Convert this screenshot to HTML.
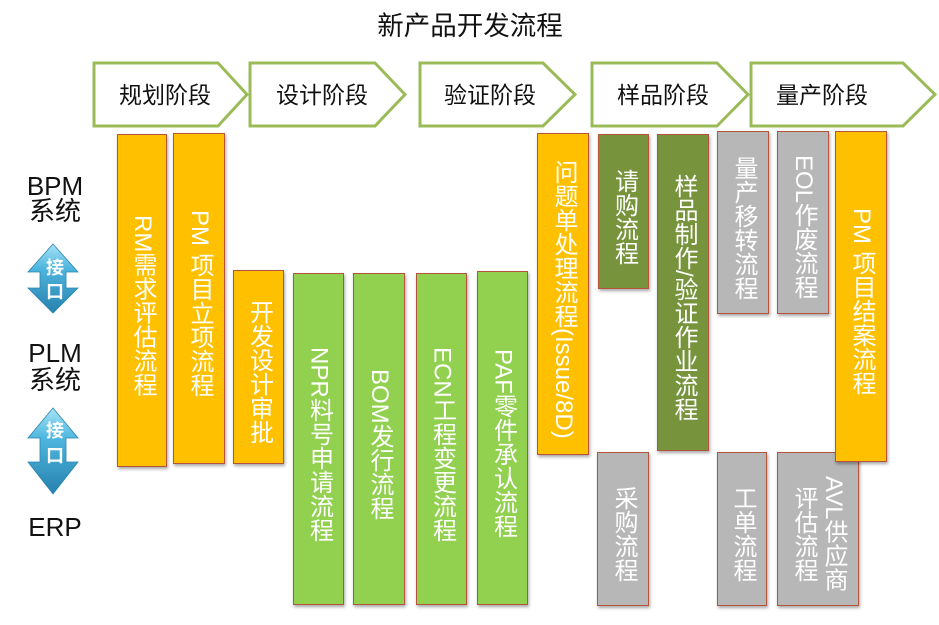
<!DOCTYPE html>
<html><head><meta charset="utf-8">
<style>
html,body{margin:0;padding:0;}
body{width:939px;height:625px;position:relative;overflow:hidden;background:#fff;}
svg{position:absolute;left:0;top:0;}
.b{position:absolute;box-sizing:border-box;border:1px solid #B5533C;box-shadow:1px 2px 3px rgba(0,0,0,.35);display:flex;align-items:center;justify-content:center;padding-top:10px;}
.b span{writing-mode:vertical-rl;color:#fff;font-size:24px;line-height:26px;font-family:"Liberation Sans","Noto Sans CJK SC",sans-serif;text-align:center;white-space:nowrap;}
.o{background:#FFC000;}
.lg{background:#92D050;}
.dg{background:#77933C;}
.g{background:#B7B7B7;}
</style></head>
<body>
<svg width="939" height="625" viewBox="0 0 939 625">
  <defs>
    <linearGradient id="ag" x1="0" y1="0" x2="0" y2="1">
      <stop offset="0" stop-color="#A6E4F7"/>
      <stop offset="0.35" stop-color="#4FB6DE"/>
      <stop offset="1" stop-color="#2682AE"/>
    </linearGradient>
  </defs>
  <text x="470" y="35" text-anchor="middle" font-family="'Liberation Sans','Noto Sans CJK SC',sans-serif" font-size="26.5" fill="#111">新产品开发流程</text>

  <g fill="#fff" stroke="#9BBB59" stroke-width="3" stroke-linejoin="miter">
    <polygon points="94,63 218,63 247,94.5 218,126 94,126"/>
    <polygon points="250,63 375,63 405,94.5 375,126 250,126"/>
    <polygon points="420,63 543,63 575,94.5 543,126 420,126"/>
    <polygon points="592,63 717,63 748,94.5 717,126 592,126"/>
    <polygon points="751,63 903,63 935,94.5 903,126 751,126"/>
  </g>
  <g font-family="'Liberation Sans','Noto Sans CJK SC',sans-serif" font-size="23" fill="#111">
    <text x="119" y="103">规划阶段</text>
    <text x="276" y="103">设计阶段</text>
    <text x="444" y="103">验证阶段</text>
    <text x="617" y="103">样品阶段</text>
    <text x="776" y="103">量产阶段</text>
  </g>

  <g font-family="'Liberation Sans','Noto Sans CJK SC',sans-serif" font-size="26" fill="#111" text-anchor="middle">
    <text x="55" y="195">BPM</text>
    <text x="55" y="220">系统</text>
    <text x="55" y="362">PLM</text>
    <text x="55" y="389">系统</text>
    <text x="55" y="536">ERP</text>
  </g>

  <polygon points="53,244 78,272 66,272 66,288 78,288 53,313 28,288 40,288 40,272 28,272" fill="url(#ag)" stroke="#2A86B2" stroke-width="0.8"/>
  <polygon points="53,408 78,438 66,438 66,462 78,462 53,494 28,462 40,462 40,438 28,438" fill="url(#ag)" stroke="#2A86B2" stroke-width="0.8"/>
  <g font-family="'Liberation Sans','Noto Sans CJK SC',sans-serif" font-size="18" fill="#fff" text-anchor="middle" font-weight="bold">
    <text x="55" y="274">接</text>
    <text x="55" y="298">口</text>
    <text x="55" y="437">接</text>
    <text x="55" y="462">口</text>
  </g>
</svg>

<div class="b o" style="left:117px;top:134px;width:50px;height:333px;"><span>RM需求评估流程</span></div>
<div class="b o" style="left:173px;top:133px;width:52px;height:331px;"><span>PM 项目立项流程</span></div>
<div class="b o" style="left:233px;top:270px;width:51px;height:194px;"><span>开发设计审批</span></div>
<div class="b lg" style="left:293px;top:273px;width:51px;height:332px;"><span>NPR料号申请流程</span></div>
<div class="b lg" style="left:353px;top:273px;width:52px;height:332px;"><span>BOM发行流程</span></div>
<div class="b lg" style="left:416px;top:273px;width:51px;height:332px;"><span>ECN工程变更流程</span></div>
<div class="b lg" style="left:477px;top:271px;width:51px;height:334px;"><span>PAF零件承认流程</span></div>
<div class="b o" style="left:537px;top:133px;width:52px;height:322px;"><span>问题单处理流程(Issue/8D)</span></div>
<div class="b dg" style="left:598px;top:134px;width:51px;height:155px;"><span>请购流程</span></div>
<div class="b dg" style="left:657px;top:134px;width:52px;height:317px;"><span>样品制作/验证作业流程</span></div>
<div class="b g" style="left:597px;top:452px;width:52px;height:154px;"><span>采购流程</span></div>
<div class="b g" style="left:717px;top:131px;width:52px;height:183px;"><span>量产移转流程</span></div>
<div class="b g" style="left:777px;top:131px;width:52px;height:183px;"><span>EOL作废流程</span></div>
<div class="b g" style="left:717px;top:452px;width:50px;height:154px;"><span>工单流程</span></div>
<div class="b g" style="left:777px;top:452px;width:82px;height:154px;"><span style="line-height:30px;">AVL供应商<br>评估流程</span></div>
<div class="b o" style="left:835px;top:131px;width:52px;height:331px;"><span>PM 项目结案流程</span></div>
</body></html>
